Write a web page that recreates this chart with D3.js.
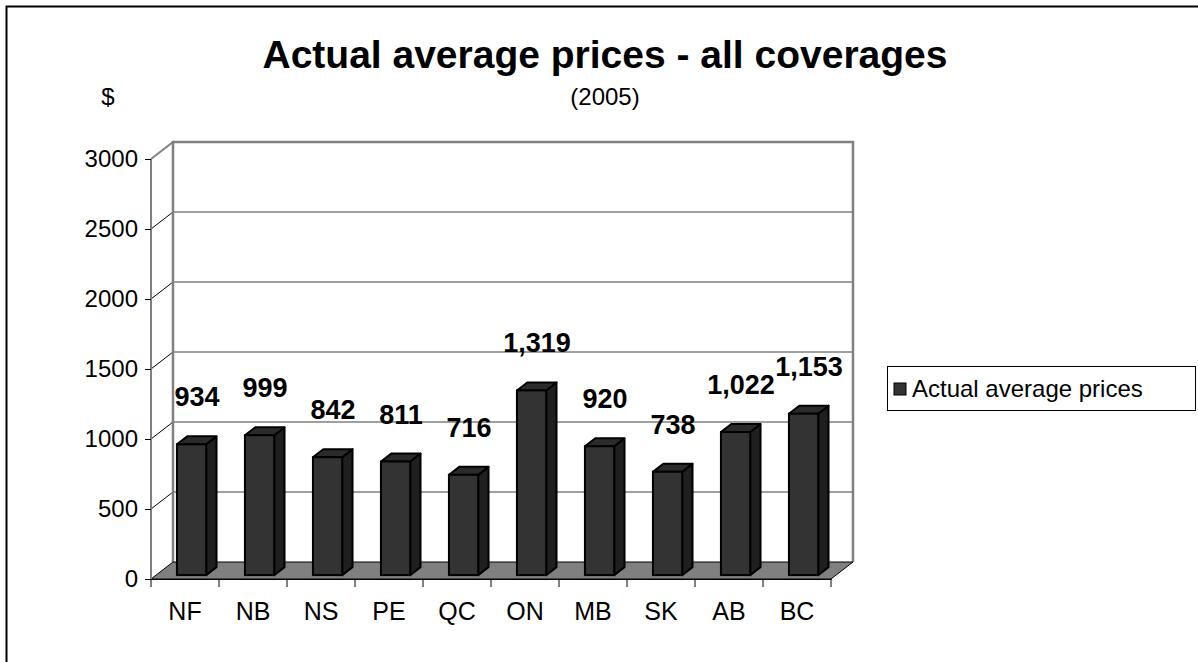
<!DOCTYPE html>
<html>
<head>
<meta charset="utf-8">
<script src="https://cdn.jsdelivr.net/npm/d3@7"></script>
<style>
  html, body { margin: 0; padding: 0; background: #fff; }
  svg { display: block; font-family: Arial, "Liberation Sans", sans-serif; }
</style>
</head>
<body>
<svg id="chart" width="1198" height="662"></svg>
<script>
// Provinces and their 2005 average prices (all coverages)
const provinces = ["NF", "NB", "NS", "PE", "QC", "ON", "MB", "SK", "AB", "BC"];
const prices = [934, 999, 842, 811, 716, 1319, 920, 738, 1022, 1153];
const yTicks = [0, 500, 1000, 1500, 2000, 2500, 3000];
const seriesName = "Actual average prices";

const svg = d3.select("#chart");
const FONT = "Arial, 'Liberation Sans', sans-serif";

// Plot frame (front plane) and depth of the 3-D box
const left = 151, right = 831, base = 579, topY = 159;
const DX = 22, DY = -17;              // full depth offset of the back wall
const barFront = 0.23, barBack = 0.7; // bar position within the depth

const x = d3.scaleBand().domain(provinces).range([left, right]).paddingInner(0).paddingOuter(0);
const y = d3.scaleLinear().domain([0, 3000]).range([base, topY]);

// Outer chart border
svg.append("rect")
  .attr("x", 6.5).attr("y", 6.5).attr("width", 1300).attr("height", 800)
  .attr("fill", "none").attr("stroke", "#000").attr("stroke-width", 2);

// Back wall
const wall = svg.append("g");
wall.append("rect")
  .attr("x", left + DX).attr("y", y(3000) + DY)
  .attr("width", right - left).attr("height", y(0) - y(3000))
  .attr("fill", "#fff");

// Gridlines on the back wall and the diagonals on the side wall
yTicks.forEach(t => {
  if (t > 0 && t < 3000) {
    wall.append("line")
      .attr("x1", left + DX).attr("x2", right + DX)
      .attr("y1", y(t) + DY).attr("y2", y(t) + DY)
      .attr("stroke", "#808080").attr("stroke-width", 1.5);
  }
  if (t > 0) {
    wall.append("line")
      .attr("x1", left).attr("y1", y(t))
      .attr("x2", left + DX).attr("y2", y(t) + DY)
      .attr("stroke", t === 3000 ? "#808080" : "#000")
      .attr("stroke-width", t === 3000 ? 2 : 1);
  }
});

// Back wall outline
wall.append("polyline")
  .attr("points", [
    [left + DX, y(0) + DY], [left + DX, y(3000) + DY],
    [right + DX, y(3000) + DY], [right + DX, y(0) + DY]
  ].map(p => p.join(",")).join(" "))
  .attr("fill", "none").attr("stroke", "#808080").attr("stroke-width", 2.5);

// Floor
svg.append("polygon")
  .attr("points", [
    [left, base], [right, base], [right + DX, base + DY], [left + DX, base + DY]
  ].map(p => p.join(",")).join(" "))
  .attr("fill", "#808080").attr("stroke", "#000").attr("stroke-width", 1);

// Front value axis
svg.append("line")
  .attr("x1", left).attr("x2", left).attr("y1", y(3000)).attr("y2", base)
  .attr("stroke", "#808080").attr("stroke-width", 2);

const yAxis = d3.axisLeft(y).tickValues(yTicks).tickSize(6).tickPadding(7)
  .tickFormat(d3.format("d"));
const yg = svg.append("g").attr("transform", `translate(${left},0)`).call(yAxis);
yg.select(".domain").remove();
yg.selectAll(".tick line").attr("stroke", "#000").attr("stroke-width", 1);
yg.selectAll(".tick text")
  .attr("font-size", 24).attr("fill", "#000").attr("font-family", FONT);

// Category axis
const xAxis = d3.axisBottom(x).tickSize(0).tickPadding(23);
const xg = svg.append("g").attr("transform", `translate(0,${base})`).call(xAxis);
xg.select(".domain").attr("stroke", "#000").attr("stroke-width", 1);
xg.selectAll(".tick text")
  .attr("font-size", 25).attr("fill", "#000").attr("font-family", FONT);
// tick marks between categories
d3.range(provinces.length + 1).forEach(i => {
  const xp = left + i * x.bandwidth();
  xg.append("line").attr("x1", xp).attr("x2", xp).attr("y1", 0).attr("y2", 8)
    .attr("stroke", "#000").attr("stroke-width", 1);
});

// 3-D columns
const barW = x.bandwidth() * 0.43;
const fdx = DX * barFront, fdy = DY * barFront;
const sdx = DX * (barBack - barFront), sdy = DY * (barBack - barFront);

const bars = svg.append("g").selectAll("g")
  .data(provinces.map((p, i) => ({ p, v: prices[i] })))
  .join("g");

bars.each(function (d) {
  const g = d3.select(this);
  const cx = x(d.p) + x.bandwidth() / 2 + fdx + 1.5;
  const x0 = cx - barW / 2, x1 = cx + barW / 2;
  const yb = y(0) + fdy, yt = y(d.v) + fdy;
  const pts = a => a.map(p => p.join(",")).join(" ");
  // side face
  g.append("polygon")
    .attr("points", pts([[x1, yt], [x1 + sdx, yt + sdy], [x1 + sdx, yb + sdy], [x1, yb]]))
    .attr("fill", "#1f1f1f").attr("stroke", "#000").attr("stroke-width", 2)
    .attr("stroke-linejoin", "round");
  // top face
  g.append("polygon")
    .attr("points", pts([[x0, yt], [x1, yt], [x1 + sdx, yt + sdy], [x0 + sdx, yt + sdy]]))
    .attr("fill", "#2b2b2b").attr("stroke", "#000").attr("stroke-width", 2)
    .attr("stroke-linejoin", "round");
  // front face
  g.append("rect")
    .attr("x", x0).attr("y", yt).attr("width", barW).attr("height", yb - yt)
    .attr("fill", "#333333").attr("stroke", "#000").attr("stroke-width", 2);
});

// Value labels above each column
svg.append("g").selectAll("text")
  .data(provinces.map((p, i) => ({ p, v: prices[i] })))
  .join("text")
  .attr("x", d => x(d.p) + x.bandwidth() / 2 + 12)
  .attr("y", d => y(d.v) + fdy - 38)
  .attr("text-anchor", "middle")
  .attr("font-size", 27).attr("font-weight", "bold").attr("fill", "#000")
  .text(d => d3.format(",")(d.v));

// Titles
svg.append("text").attr("x", 605).attr("y", 68).attr("text-anchor", "middle")
  .attr("font-size", 39).attr("font-weight", "bold").text("Actual average prices - all coverages");
svg.append("text").attr("x", 605).attr("y", 105).attr("text-anchor", "middle")
  .attr("font-size", 24).text("(2005)");
svg.append("text").attr("x", 108).attr("y", 105).attr("text-anchor", "middle")
  .attr("font-size", 24).text("$");

// Legend
const lg = svg.append("g");
lg.append("rect").attr("x", 887.5).attr("y", 366.5).attr("width", 308).attr("height", 44)
  .attr("fill", "#fff").attr("stroke", "#000").attr("stroke-width", 1);
lg.append("rect").attr("x", 894).attr("y", 383).attr("width", 12).attr("height", 12)
  .attr("fill", "#333333").attr("stroke", "#000").attr("stroke-width", 1);
lg.append("text").attr("x", 912).attr("y", 397).attr("font-size", 24).text(seriesName);
</script>
</body>
</html>
